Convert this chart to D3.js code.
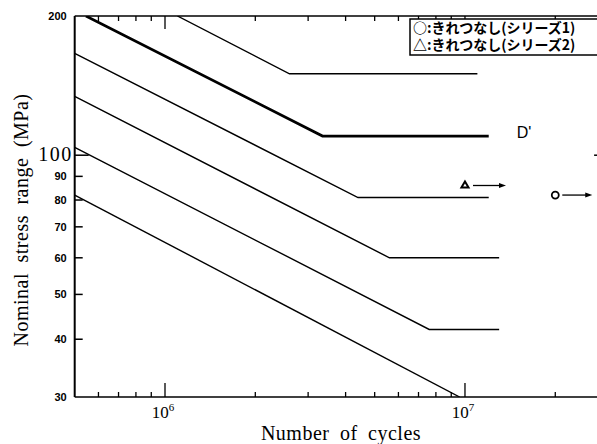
<!DOCTYPE html>
<html>
<head>
<meta charset="utf-8">
<script src="https://cdn.jsdelivr.net/npm/d3@7"></script>
<style>
body { margin: 0; background: #fff; }
svg { display: block; }
</style>
</head>
<body>
<div id="chart"></div>
<script>
(function(){

// S-N design curves, points as [cycles, stress MPa]
var curve1 = [[1.1e6, 200], [2.6e6, 150], [1.1e7, 150]]
var curveD = [[5.45e5, 200], [3.35e6, 110], [1.2e7, 110]]   // thick, labelled D'
var curve3 = [[5e5, 166], [4.4e6, 81], [1.2e7, 81]]
var curve4 = [[5e5, 134], [5.6e6, 60], [1.3e7, 60]]
var curve5 = [[5e5, 104], [7.6e6, 42], [1.3e7, 42]]
var curve6 = [[5e5, 82], [9.6e6, 30]]

// run-out test results (no crack)
var series1 = [[2e7, 82]]    // circle
var series2 = [[1e7, 86]]    // triangle

var xDomain = [5e5, 3e7]
var yDomain = [30, 200]
var yTickValues = [30, 40, 50, 60, 70, 80, 90, 100, 200]
var xTickLabels = [1e6, 1e7]
var legendLabels = ["○:きれつなし(シリーズ1)", "△:きれつなし(シリーズ2)"]
var dLabel = "D'"

var W = 597, H = 444
var margin = {top: 16, left: 74.7},
    width = 608.1 - margin.left,
    height = 397 - margin.top

var svg = d3.select("#chart").append("svg")
	.attr("width", W)
	.attr("height", H)

svg.append("rect").attr("width", W).attr("height", H).style("fill", "#fff")

var x = d3.scaleLog().domain(xDomain).range([0, width])
var y = d3.scaleLog().domain(yDomain).range([height, 0])

var plot = svg.append("g")
	.attr("transform", "translate(" + margin.left + "," + margin.top + ")")

plot.append("clipPath").attr("id", "clip")
	.append("rect").attr("width", width).attr("height", height)

var line = d3.line()
	.x(function(d){ return x(d[0]) })
	.y(function(d){ return y(d[1]) })

var curves = plot.append("g").attr("clip-path", "url(#clip)")

;[curve1, curve3, curve4, curve5, curve6].forEach(function(c){
	curves.append("path").datum(c)
		.attr("d", line)
		.style("fill", "none")
		.style("stroke", "#000")
		.style("stroke-width", 1.4)
})
curves.append("path").datum(curveD)
	.attr("d", line)
	.style("fill", "none")
	.style("stroke", "#000")
	.style("stroke-width", 2.7)

plot.append("text").text(dLabel)
	.attr("x", x(curveD[2][0]) + 28)
	.attr("y", y(curveD[2][1]) + 2)
	.style("font-family", "Liberation Sans, Arial, sans-serif")
	.style("font-size", 16)
	.style("fill", "#000")

// frame
var frame = plot.append("g").style("stroke", "#000").style("fill", "none")
frame.append("line").attr("x1", 0).attr("x2", 0).attr("y1", 0).attr("y2", height).style("stroke-width", 2)
frame.append("line").attr("x1", 0).attr("x2", width).attr("y1", height).attr("y2", height).style("stroke-width", 1.6)
frame.append("line").attr("x1", 0).attr("x2", width).attr("y1", 0).attr("y2", 0).style("stroke-width", 1.3)
frame.append("line").attr("x1", width).attr("x2", width).attr("y1", 0).attr("y2", height).style("stroke-width", 1.5)

// x ticks (bottom up, top down)
var isDecade = function(v){ return Math.abs(Math.log10(v) - Math.round(Math.log10(v))) < 1e-9 }
var xt = x.ticks().filter(function(v){ return v > xDomain[0] && v < xDomain[1] })
var xticks = plot.append("g").selectAll(".xt").data(xt).enter().append("g")
	.attr("transform", function(d){ return "translate(" + x(d) + ",0)" })
	.style("stroke", "#000").style("stroke-width", 1.3)
xticks.append("line").attr("y1", height).attr("y2", function(d){ return height - (isDecade(d) ? 14 : 5) })
xticks.append("line").attr("y1", 0).attr("y2", function(d){ return isDecade(d) ? 13 : 5 })

var xl = plot.append("g").selectAll(".xl").data(xTickLabels).enter().append("text")
	.attr("x", function(d){ return x(d) - 2 })
	.attr("y", height + 21)
	.style("text-anchor", "middle")
	.style("font-family", "Liberation Serif, Times New Roman, serif")
	.style("font-size", 17)
	.style("fill", "#000")
xl.append("tspan").text("10")
xl.append("tspan").text(function(d){ return Math.round(Math.log10(d)) })
	.attr("dy", -7).style("font-size", 11)

// y ticks (left and right, inward)
var yticks = plot.append("g").selectAll(".yt").data(yTickValues.filter(function(v){ return v > yDomain[0] && v < yDomain[1] }))
	.enter().append("g")
	.attr("transform", function(d){ return "translate(0," + y(d) + ")" })
	.style("stroke", "#000").style("stroke-width", 1.5)
yticks.append("line").attr("x1", 0).attr("x2", function(d){ return isDecade(d) ? 14 : 8 })
yticks.append("line").attr("x1", width).attr("x2", function(d){ return width - (isDecade(d) ? 14 : 8) })

plot.append("g").selectAll(".yl").data(yTickValues).enter().append("text")
	.text(function(d){ return d })
	.attr("x", function(d){ return d == 100 ? -2 : -8 })
	.attr("y", function(d){ return y(d) + (d == 100 ? 6 : 4) })
	.style("text-anchor", "end")
	.style("font-family", function(d){ return d == 100 ? "Liberation Serif, serif" : "Liberation Sans, Arial, sans-serif" })
	.style("font-weight", function(d){ return d == 100 ? "normal" : "bold" })
	.style("font-size", function(d){ return d == 100 ? 20 : 11 })
	.style("letter-spacing", function(d){ return d == 100 ? "1.5px" : "0px" })
	.style("fill", "#000")

// run-out markers with arrows
var mk = plot.append("g")
function arrow(px, py, a, b){
	mk.append("line").attr("x1", px + a).attr("x2", px + b - 4).attr("y1", py).attr("y2", py)
		.style("stroke", "#000").style("stroke-width", 1.3)
	mk.append("path").attr("d", "M" + (px + b) + "," + py + "l-7,-2.5l0,5z").style("fill", "#000")
}
series1.forEach(function(d){
	var px = x(d[0]), py = y(d[1])
	mk.append("circle").attr("cx", px).attr("cy", py).attr("r", 3.5)
		.style("fill", "#fff").style("stroke", "#000").style("stroke-width", 1.8)
	arrow(px, py, 7, 37)
})
series2.forEach(function(d){
	var px = x(d[0]), py = y(d[1])
	mk.append("path").attr("d", d3.symbol().type(d3.symbolTriangle).size(22))
		.attr("transform", "translate(" + px + "," + py + ")")
		.style("fill", "#fff").style("stroke", "#000").style("stroke-width", 2)
	arrow(px, py, 8, 41)
})

// legend
var leg = svg.append("g").attr("transform", "translate(410,19)")
leg.append("rect").attr("width", 200).attr("height", 36)
	.style("fill", "#fff").style("stroke", "#000").style("stroke-width", 1.5)
leg.selectAll("text").data(legendLabels).enter().append("text")
	.text(function(d){ return d })
	.attr("x", 3)
	.attr("y", function(d, i){ return 14 + i * 17 })
	.style("font-family", "Noto Sans CJK JP, sans-serif")
	.style("font-weight", "bold")
	.style("font-size", 14)
	.style("fill", "#000")

// axis titles
svg.append("text").text("Number of cycles")
	.attr("x", 341).attr("y", 440)
	.style("text-anchor", "middle")
	.style("font-family", "Liberation Serif, Times New Roman, serif")
	.style("font-size", 20)
	.style("word-spacing", "5px")
	.style("letter-spacing", "0.5px")
	.style("fill", "#000")

svg.append("text").text("Nominal stress range (MPa)")
	.attr("transform", "translate(28,220) rotate(-90)")
	.style("text-anchor", "middle")
	.style("font-family", "Liberation Serif, Times New Roman, serif")
	.style("font-size", 20)
	.style("word-spacing", "5px")
	.style("letter-spacing", "0.5px")
	.style("fill", "#000")

})()
</script>
</body>
</html>
